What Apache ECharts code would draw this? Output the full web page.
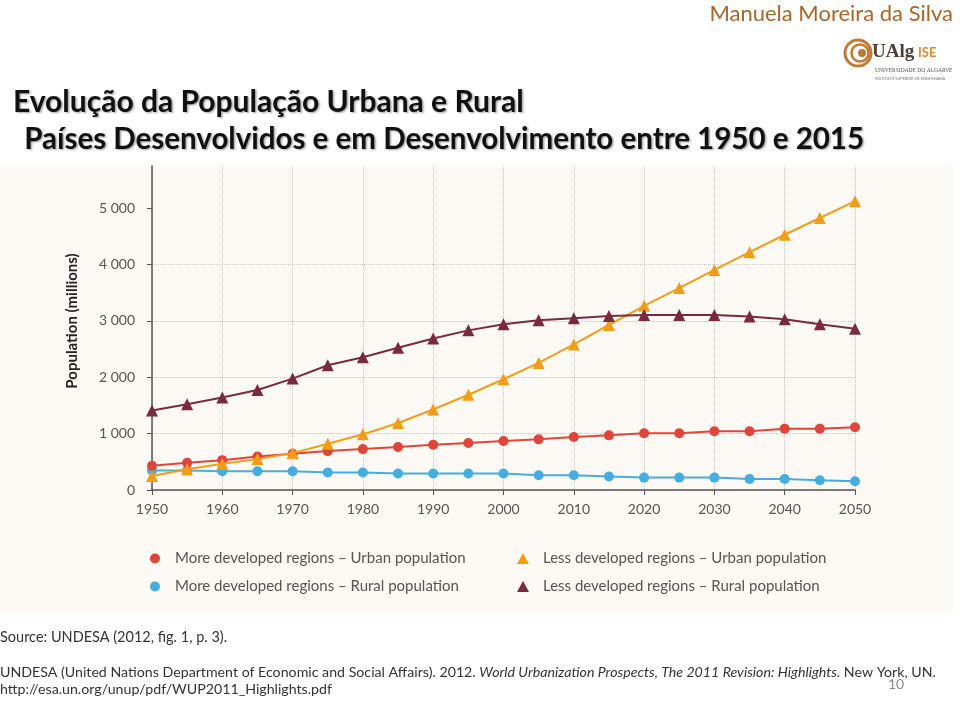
<!DOCTYPE html>
<html>
<head>
<meta charset="utf-8">
<script src="https://cdn.jsdelivr.net/npm/echarts@6/dist/echarts.min.js"></script>
<style>
html,body{margin:0;padding:0;background:#ffffff;}
#chart{width:960px;height:701px;}
</style>
</head>
<body>
<div id="chart"></div>
<script>
// ---- data ----
var years = [1950,1955,1960,1965,1970,1975,1980,1985,1990,1995,2000,2005,2010,2015,2020,2025,2030,2035,2040,2045,2050];
var moreUrban = [429,482,530,595,643,690,726,762,804,833,869,899,940,970,1006,1006,1042,1042,1089,1089,1113];
var moreRural = [345,345,333,333,333,310,310,292,292,292,292,262,262,238,220,220,220,196,196,173,155];
var lessUrban = [250,369,464,548,655,821,988,1190,1429,1690,1965,2256,2583,2929,3268,3583,3905,4220,4530,4827,5125];
var lessRural = [1410,1520,1640,1775,1977,2214,2357,2523,2690,2833,2940,3012,3048,3089,3107,3107,3107,3077,3030,2940,2863];
var yTicks = [0,1000,2000,3000,4000,5000];
var seriesNames = [
  'More developed regions – Urban population',
  'More developed regions – Rural population',
  'Less developed regions – Urban population',
  'Less developed regions – Rural population'
];
var titleLine1 = 'Evolução da População Urbana e Rural';
var titleLine2 = ' Países Desenvolvidos e em Desenvolvimento entre 1950 e 2015';
var yAxisName = 'Population (millions)';

function pairs(vals){ return years.map(function(y,i){ return [y, vals[i]]; }); }

var C_RED = '#e0453a', C_BLUE = '#45ade0', C_ORANGE = '#f29d17', C_MAROON = '#7a2a3e';
var FONT = 'Lato';
var shadow = {textShadowColor: 'rgba(0,0,0,0.35)', textShadowBlur: 2, textShadowOffsetX: 1.5, textShadowOffsetY: 1.5};

var chart = echarts.init(document.getElementById('chart'), null, {renderer:'canvas'});
var option = {
  backgroundColor: '#ffffff',
  animation: false,
  textStyle: {fontFamily: FONT},
  title: [
    {text: titleLine1, left: 8, top: 82,
     textStyle: Object.assign({fontFamily: FONT, fontWeight: 'bold', fontSize: 30, color: '#111'}, shadow)},
    {text: titleLine2, left: 12, top: 119,
     textStyle: Object.assign({fontFamily: FONT, fontWeight: 'bold', fontSize: 29.5, color: '#111'}, shadow)},
    {text: 'Manuela Moreira da Silva', right: 2, top: -2,
     textStyle: {fontFamily: FONT, fontWeight: 'normal', fontSize: 22, color: '#a8662a'}}
  ],
  graphic: [
    {type: 'rect', z: -10, silent: true, shape: {x: 0, y: 165, width: 953, height: 447}, style: {fill: '#fdf9f4'}},
    // logo
    {type: 'circle', shape: {cx: 858, cy: 53, r: 13}, style: {fill: 'none', stroke: '#c27a33', lineWidth: 3}},
    {type: 'circle', shape: {cx: 860, cy: 53, r: 8.5}, style: {fill: 'none', stroke: '#c27a33', lineWidth: 2.5}},
    {type: 'circle', shape: {cx: 862, cy: 53, r: 4}, style: {fill: '#c27a33', stroke: 'none'}},
    {type: 'text', left: 872, top: 43, style: {text: 'UAlg', font: 'bold 19px "Liberation Serif"', fill: '#4e4035'}},
    {type: 'text', left: 918, top: 46, style: {text: 'ISE', font: 'bold 13px Lato', fill: '#d98a3a'}},
    {type: 'text', left: 875, top: 68, style: {text: 'UNIVERSIDADE DO ALGARVE', font: '5.5px "Liberation Serif"', fill: '#555'}},
    {type: 'text', left: 875, top: 77, style: {text: 'INSTITUTO SUPERIOR DE ENGENHARIA', font: '3.8px Lato', fill: '#777'}},
    // y axis name
    {type: 'text', x: 72, y: 321, rotation: Math.PI / 2, style: {text: yAxisName, font: 'bold 15px Lato', fill: '#222', align: 'center', verticalAlign: 'middle'}},
    // source
    {type: 'text', left: 0, top: 630, style: {text: 'Source: UNDESA (2012, fig. 1, p. 3).', font: '14.5px Lato', fill: '#333'}},
    {type: 'text', left: 0, top: 665, style: {
      text: '{n|UNDESA (United Nations Department of Economic and Social Affairs). 2012. }{i|World Urbanization Prospects, The 2011 Revision: Highlights.}{n| New York, UN.}',
      rich: {n: {font: '14.2px Lato', fill: '#333'}, i: {font: 'italic 14.2px Lato', fill: '#333'}}}},
    {type: 'text', left: 0, top: 682, style: {text: 'http://esa.un.org/unup/pdf/WUP2011_Highlights.pdf', font: '14.2px Lato', fill: '#333'}},
    {type: 'text', left: 888, top: 677, style: {text: '10', font: '14px Lato', fill: '#8a8a8a'}}
  ],
  legend: [
    {orient: 'vertical', left: 145, top: 546, itemGap: 13, itemWidth: 10, itemHeight: 10,
     textStyle: {fontFamily: FONT, fontSize: 15, color: '#555', padding: [0,0,0,10]},
     data: [{name: seriesNames[0], icon: 'circle'}, {name: seriesNames[1], icon: 'circle'}]},
    {orient: 'vertical', left: 512, top: 546, itemGap: 13, itemWidth: 12, itemHeight: 11,
     textStyle: {fontFamily: FONT, fontSize: 15, color: '#555', padding: [0,0,0,9]},
     data: [{name: seriesNames[2], icon: 'triangle'}, {name: seriesNames[3], icon: 'triangle'}]}
  ],
  grid: {left: 152, right: 105, top: 166, bottom: 211, containLabel: false},
  xAxis: {
    type: 'value', min: 1950, max: 2050, interval: 10,
    axisLine: {show: true, lineStyle: {color: '#555', width: 1.5}},
    axisTick: {show: true, length: 5, lineStyle: {color: '#555'}},
    axisLabel: {color: '#555', fontSize: 14, margin: 12, fontFamily: FONT, formatter: function(v){return String(v);}},
    splitLine: {show: true, lineStyle: {color: '#c8c8c8', type: 'dotted', width: 1}}
  },
  yAxis: {
    type: 'value', min: 0, max: 5750,
    axisLine: {show: true, lineStyle: {color: '#555', width: 1.5}},
    axisTick: {show: true, length: 5, lineStyle: {color: '#555'}, customValues: yTicks},
    axisLabel: {color: '#555', fontSize: 14, margin: 17, fontFamily: FONT, customValues: yTicks,
      formatter: function(v){ return v >= 1000 ? Math.floor(v/1000) + ' ' + ('00' + (v % 1000)).slice(-3) : String(v); }},
    splitLine: {show: true, showMaxLine: false, lineStyle: {color: '#c8c8c8', type: 'dotted', width: 1}}
  },
  series: [
    {name: seriesNames[0], type: 'line', data: pairs(moreUrban), symbol: 'circle', symbolSize: 10,
     lineStyle: {color: C_RED, width: 2}, itemStyle: {color: C_RED}, z: 3},
    {name: seriesNames[1], type: 'line', data: pairs(moreRural), symbol: 'circle', symbolSize: 10,
     lineStyle: {color: C_BLUE, width: 2}, itemStyle: {color: C_BLUE}, z: 2},
    {name: seriesNames[2], type: 'line', data: pairs(lessUrban), symbol: 'triangle', symbolSize: 12,
     lineStyle: {color: C_ORANGE, width: 2}, itemStyle: {color: C_ORANGE}, z: 4},
    {name: seriesNames[3], type: 'line', data: pairs(lessRural), symbol: 'triangle', symbolSize: 12,
     lineStyle: {color: C_MAROON, width: 2}, itemStyle: {color: C_MAROON}, z: 5}
  ]
};
chart.setOption(option);
</script>
</body>
</html>
